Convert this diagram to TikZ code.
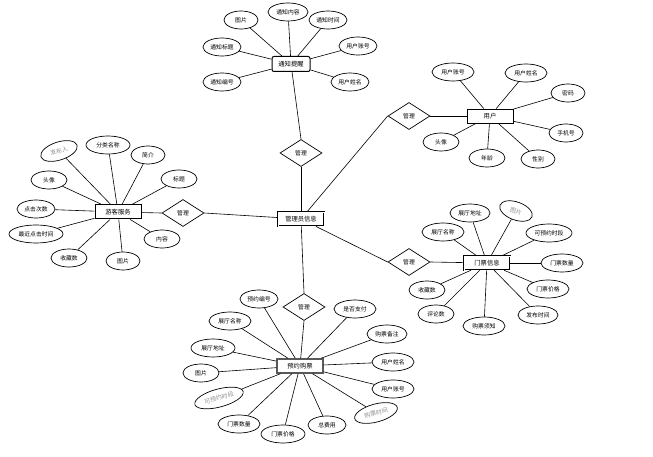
\documentclass[tikz,border=0pt]{standalone}
\usepackage{fontspec}
\setmainfont{Noto Sans CJK SC}
\newfontfamily\serifcjk{Noto Sans CJK SC}
\usetikzlibrary{shapes.geometric}
\tikzset{
  attr/.style={ellipse,draw=black,line width=0.7pt,minimum width=38pt,minimum height=18pt,inner sep=0.5pt,font=\fontsize{5.8}{6}\selectfont},
  gattr/.style={attr,text=gray!85,font=\fontsize{6}{6}\selectfont},
  ent/.style={rectangle,draw=black,line width=1pt,minimum width=46pt,minimum height=14pt,inner sep=1pt,font=\fontsize{6.3}{7}\selectfont},
  rel/.style={diamond,draw=black,line width=0.7pt,minimum width=42pt,minimum height=27pt,inner sep=0pt,aspect=1.6,font=\fontsize{5.8}{6}\selectfont},
  ln/.style={draw=black,line width=0.6pt}
}
\begin{document}
\begin{tikzpicture}[x=1pt,y=-1pt]
\useasboundingbox[fill=white] (0,0) rectangle (653,457);
% entities
\node[ent,rounded corners=2pt,minimum width=38pt,minimum height=15pt] (tz) at (291,64) {通知提醒};
\node[ent,line width=0.7pt] (yh) at (490,116) {用户};
\node[ent] (yk) at (118,212) {游客服务};
\node[ent,line width=0.8pt,double,double distance=0.6pt] (gl) at (301,219) {管理员信息};
\node[ent,double,double distance=0.6pt,line width=0.6pt] (mp) at (487,263) {门票信息};
\node[ent,draw=gray!70!black,line width=1.4pt] (yy) at (300,366) {预约购票};
% relations
\node[rel] (r1) at (301,153) {管理};
\node[rel] (r2) at (183,213) {管理};
\node[rel] (r3) at (409,116) {管理};
\node[rel] (r4) at (409,262) {管理};
\node[rel] (r5) at (304,307) {管理};
% 通知提醒 attributes
\node[attr,minimum width=34pt] (t1) at (241,20) {图片};
\node[attr,minimum width=40pt] (t2) at (288,12) {通知内容};
\node[attr] (t3) at (328,20) {通知时间};
\node[attr] (t4) at (222,47) {通知标题};
\node[attr] (t5) at (358,46) {用户账号};
\node[attr] (t6) at (222,82) {通知编号};
\node[attr] (t7) at (350,82) {用户姓名};
\foreach \a in {t1,t2,t3,t4,t5,t6,t7} \draw[ln] (\a) -- (tz);
% 用户 attributes
\node[attr,minimum width=42pt] (u1) at (453,72) {用户账号};
\node[attr,minimum width=42pt] (u2) at (526,73) {用户姓名};
\node[attr,minimum width=34pt] (u3) at (568,93) {密码};
\node[attr,minimum width=34pt] (u4) at (566,133) {手机号};
\node[attr,minimum width=34pt] (u5) at (538,159) {性别};
\node[attr,minimum width=36pt] (u6) at (487,158) {年龄};
\node[attr,minimum width=36pt] (u7) at (441,142) {头像};
\foreach \a in {u1,u2,u3,u4,u5,u6,u7} \draw[ln] (\a) -- (yh);
% 游客服务 attributes
\node[gattr,rotate=18,minimum width=38pt] (k1) at (59,151) {\serifcjk 发布人};
\node[attr,minimum width=44pt] (k2) at (108,145) {分类名称};
\node[attr,minimum width=34pt] (k3) at (148,155) {简介};
\node[attr,minimum width=36pt] (k4) at (179,179) {标题};
\node[attr,minimum width=36pt] (k5) at (49,180) {头像};
\node[attr] (k6) at (36,209) {点击次数};
\node[attr,minimum width=54pt] (k7) at (36,234) {最近点击时间};
\node[attr,minimum width=36pt] (k8) at (69,258) {收藏数};
\node[attr,minimum width=34pt] (k9) at (123,261) {图片};
\node[attr,minimum width=36pt] (k10) at (162,239) {内容};
\foreach \a in {k1,k2,k3,k4,k5,k6,k7,k8,k9,k10} \draw[ln] (\a) -- (yk);
% 门票信息 attributes
\node[attr,minimum width=40pt] (m1) at (470,213) {展厅地址};
\node[gattr,rotate=-20,minimum width=34pt] (m2) at (516,211) {\serifcjk 图片};
\node[attr,minimum width=42pt] (m3) at (443,232) {展厅名称};
\node[attr,minimum width=46pt] (m4) at (549,233) {可预约时段};
\node[attr,minimum width=42pt] (m5) at (562,263) {门票数量};
\node[attr,minimum width=42pt] (m6) at (548,289) {门票价格};
\node[attr,minimum width=40pt] (m7) at (538,315) {发布时间};
\node[attr,minimum width=42pt] (m8) at (484,326) {购票须知};
\node[attr,minimum width=36pt] (m9) at (436,314) {评论数};
\node[attr,minimum width=36pt] (m10) at (427,290) {收藏数};
\foreach \a in {m1,m2,m3,m4,m5,m6,m7,m8,m9,m10} \draw[ln] (\a) -- (mp);
% 预约购票 attributes
\node[attr,minimum width=38pt] (y1) at (259,299) {预约编号};
\node[attr,minimum width=42pt] (y2) at (355,309) {是否支付};
\node[attr,minimum width=42pt] (y3) at (230,321) {展厅名称};
\node[attr,minimum width=40pt] (y4) at (387,334) {购票备注};
\node[attr,minimum width=44pt] (y5) at (213,348) {展厅地址};
\node[attr,minimum width=42pt] (y6) at (393,362) {用户姓名};
\node[attr,minimum width=36pt] (y7) at (201,373) {图片};
\node[attr,minimum width=42pt] (y8) at (393,389) {用户账号};
\node[gattr,rotate=15,minimum width=50pt] (y9) at (219,398) {\serifcjk 可预约时段};
\node[gattr,rotate=15,minimum width=44pt] (y10) at (376,413) {\serifcjk 购票时间};
\node[attr,minimum width=42pt] (y11) at (239,424) {门票数量};
\node[attr,minimum width=44pt] (y12) at (283,434) {门票价格};
\node[attr,minimum width=38pt] (y13) at (327,425) {总费用};
\foreach \a in {y1,y2,y3,y4,y5,y6,y7,y8,y9,y10,y11,y12,y13} \draw[ln] (\a) -- (yy);
% relation links
\draw[ln] (tz) -- (r1.north);
\draw[ln] (r1.south) -- (gl);
\draw[ln] (gl) -- (r2.east);
\draw[ln] (r2.west) -- (yk);
\draw[ln] (gl) -- (r3.west);
\draw[ln] (r3.east) -- (yh);
\draw[ln] (gl) -- (r4.west);
\draw[ln] (r4.east) -- (mp);
\draw[ln] (gl) -- (r5.north);
\draw[ln] (r5.south) -- (yy);
\end{tikzpicture}
\end{document}
